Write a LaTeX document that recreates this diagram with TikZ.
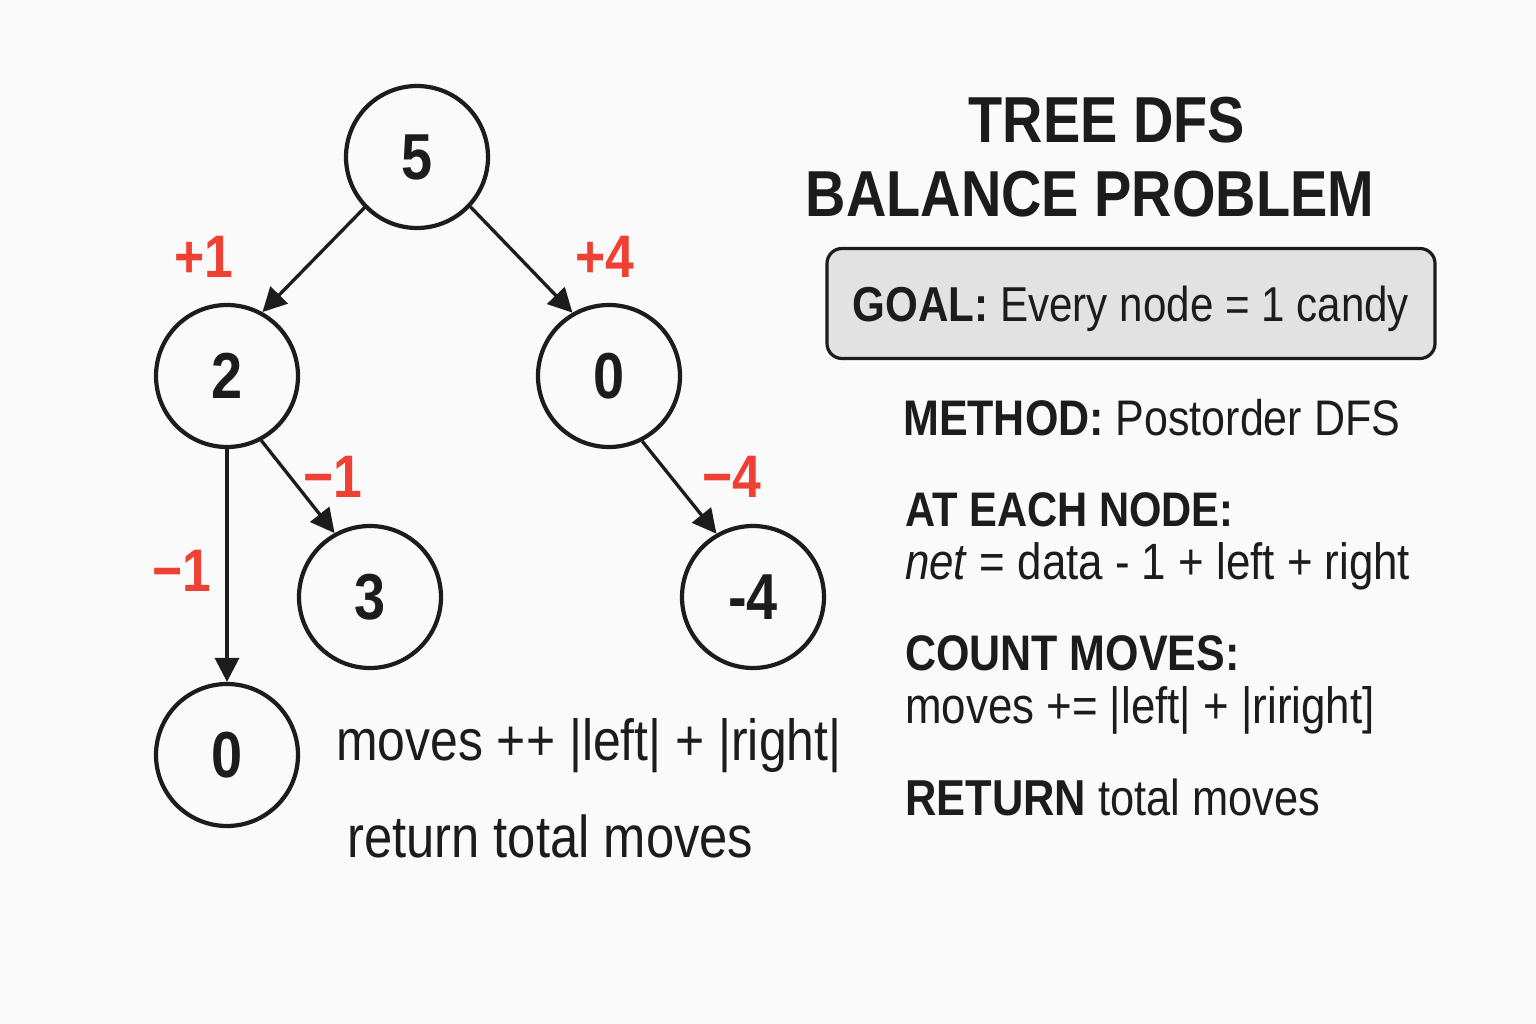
\documentclass[tikz,border=0pt]{standalone}
\usepackage{fontspec}
\setmainfont{Liberation Sans}[FakeStretch=0.86]
\usetikzlibrary{arrows.meta}

\definecolor{inkcol}{HTML}{1C1C1C}
\definecolor{redcol}{HTML}{EE4133}
\definecolor{boxcol}{HTML}{E2E2E2}
\definecolor{bgcol}{HTML}{FAFAFA}
\newcommand{\fsz}[1]{\fontsize{#1}{#1}\selectfont}

\begin{document}
\begin{tikzpicture}[x=1pt,y=-1pt,
    vertex/.style={circle,draw=inkcol,line width=4.2pt,minimum size=142pt,inner sep=0pt,
      text=inkcol,font=\fsz{65}\bfseries},
    flow/.style={draw=inkcol,line width=3.3pt,-{Triangle[length=24pt,width=24pt]}},
    delta/.style={text=redcol,font=\fsz{60}\bfseries,anchor=base,inner sep=0pt},
    txt/.style={text=inkcol,font=\fsz{50},anchor=base west,inner sep=0pt},
    title/.style={text=inkcol,font=\fsz{65}\bfseries,anchor=base,inner sep=0pt},
    goalbox/.style={draw=inkcol,fill=boxcol,line width=3.2pt,rounded corners=15pt,
      minimum width=608pt,minimum height=110pt,text depth=0pt,text=inkcol,font=\fsz{49}}]
    \fill[bgcol] (0,0) rectangle (1536,1024);

    % the tree
    \node[vertex] (n5) at (417,157) {5};
    \node[vertex] (n2) at (227,376) {2};
    \node[vertex] (n0) at (609,376) {0};
    \node[vertex] (n3) at (370,597) {3};
    \node[vertex] (nm4) at (753,597) {-4};
    \node[vertex] (nb0) at (227,755) {0};

    \draw[flow] (n5.224) -- (n2.61);
    \draw[flow] (n5.-43) -- (n0.120);
    \draw[flow] (n2.-62) -- (n3.119);
    \draw[flow] (n2.south) -- (nb0.north);
    \draw[flow] (n0.-63) -- (nm4.120);

    % flows along the edges
    \node[delta] (d1) at (204,278) {+1};
    \node[delta] (d4) at (605,278) {+4};
    \node[delta] (d3) at (333,497) {−1};
    \node[delta] (db) at (182,591) {−1};
    \node[delta] (dm4) at (732,497) {−4};

    \node[txt,font=\fsz{58}] (upd) at (336,760) {moves ++ |left| + |right|};
    \node[txt,font=\fsz{59}] (ret) at (347,857) {return total moves};

    % right panel
    \node[title] (t1) at (1107,143) {TREE DFS};
    \node[title] (t2) at (1090,217) {BALANCE PROBLEM};
    \node[goalbox] (goal) at (1131,303.5) {\textbf{GOAL:} Every node = 1 candy};

    \node[txt] (method) at (903,435) {\textbf{METHOD:} Postorder DFS};
    \node[txt,font=\fsz{48.5}] (each) at (905,526) {\textbf{AT EACH NODE:}};
    \node[txt,font=\fsz{51}] (net) at (905,579) {\textit{net} = data - 1 + left + right};
    \node[txt] (count) at (905,670) {\textbf{COUNT MOVES:}};
    \node[txt,font=\fsz{51}] (movs) at (905,723) {moves += |left| + |riright]};
    \node[txt,font=\fsz{50.5}] (rtn) at (905,815) {\textbf{RETURN} total moves};
\end{tikzpicture}
\end{document}
